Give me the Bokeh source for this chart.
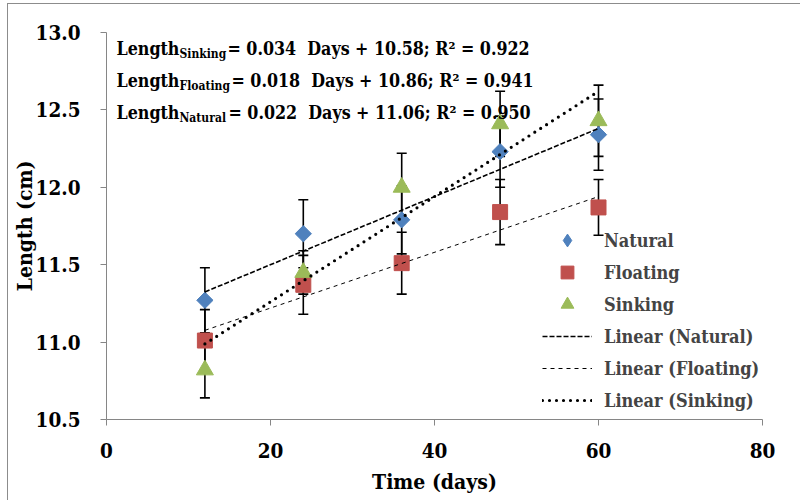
import math

from bokeh.embed import file_html
from bokeh.models import (ColumnDataSource, FixedTicker, Label, Legend, LegendItem,
                          NumeralTickFormatter, Range1d, TeeHead, Whisker)
from bokeh.plotting import figure
from bokeh.resources import INLINE

# ---- data -------------------------------------------------------------
days = [12, 24, 36, 48, 60]
natural = [11.27, 11.70, 11.79, 12.23, 12.34]
floating = [11.01, 11.37, 11.51, 11.84, 11.87]
sinking = [10.82, 11.45, 12.00, 12.41, 12.43]
natural_err = [0.21, 0.22, 0.22, 0.23, 0.23]
floating_err = [0.20, 0.19, 0.20, 0.21, 0.18]
sinking_err = [0.18, 0.14, 0.22, 0.21, 0.23]

# linear fits: (slope, intercept, r2)
fit_sinking = (0.034, 10.58, 0.922)
fit_floating = (0.018, 10.86, 0.941)
fit_natural = (0.022, 11.06, 0.950)

x_ticks = [0, 20, 40, 60, 80]
y_ticks = [10.5, 11.0, 11.5, 12.0, 12.5, 13.0]

FONT = "DejaVu Serif Condensed"
BLUE, RED, GREEN = "#4F81BD", "#C0504D", "#9BBB59"
AXIS_GREY = "#868686"

p = figure(width=793, height=497, output_backend="svg", toolbar_location=None,
           x_range=Range1d(0, 80), y_range=Range1d(10.5, 13.0),
           min_border_left=96, min_border_right=39, min_border_top=28, min_border_bottom=82)
p.margin = (3, 0, 0, 7)
p.styles = {"border-left": "1px solid #8C8C8C", "border-top": "1px solid #8C8C8C"}
p.outline_line_color = None
p.grid.visible = False
p.background_fill_color = "white"
p.border_fill_color = "white"

for ax in (p.xaxis, p.yaxis):
    ax.axis_line_color = AXIS_GREY
    ax.major_tick_line_color = AXIS_GREY
    ax.minor_tick_line_color = None
    ax.major_tick_in = 0
    ax.major_tick_out = 6
    ax.major_label_text_font = FONT
    ax.major_label_text_font_style = "bold"
    ax.major_label_text_font_size = "20.5px"
    ax.major_label_text_color = "black"
    ax.axis_label_text_font = FONT
    ax.axis_label_text_font_style = "bold"
    ax.axis_label_text_font_size = "21px"
    ax.axis_label_text_color = "black"
p.xaxis.ticker = FixedTicker(ticks=x_ticks)
p.yaxis.ticker = FixedTicker(ticks=y_ticks)
p.yaxis.formatter = NumeralTickFormatter(format="0.0")
p.xaxis.major_label_standoff = 17
p.yaxis.major_label_standoff = 20
p.xaxis.axis_label = "Time (days)"
p.yaxis.axis_label = "Length (cm)"
p.xaxis.axis_label_standoff = 8
p.yaxis.axis_label_standoff = -4

# ---- error bars (under the markers) -----------------------------------
for vals, errs in ((natural, natural_err), (floating, floating_err), (sinking, sinking_err)):
    src = ColumnDataSource(dict(x=days,
                                lower=[v - e for v, e in zip(vals, errs)],
                                upper=[v + e for v, e in zip(vals, errs)]))
    w = Whisker(base="x", lower="lower", upper="upper", source=src,
                line_color="black", line_width=1.6, level="underlay",
                upper_head=TeeHead(size=10, line_width=1.6, line_color="black"),
                lower_head=TeeHead(size=10, line_width=1.6, line_color="black"))
    p.add_layout(w)

# ---- markers ------------------------------------------------------------
r_nat = p.scatter(days, natural, marker="square", angle=math.pi / 4, size=11.5,
                  fill_color=BLUE, line_color=BLUE)
r_flo = p.scatter(days, floating, marker="square", size=15,
                  fill_color=RED, line_color=RED)
r_sin = p.scatter(days, sinking, marker="triangle", size=17,
                  fill_color=GREEN, line_color=GREEN)
# legend swatch for the diamond series (legend glyphs are drawn unrotated)
r_nat_key = p.scatter(days, natural, marker="diamond", size=14,
                      fill_color=BLUE, line_color=BLUE, visible=False)

# ---- trend lines from the fitted equations ------------------------------
def fit_line(fit):
    a, b, _ = fit
    xs = [days[0], days[-1]]
    return xs, [a * x + b for x in xs]

xs, ys = fit_line(fit_natural)
l_nat = p.line(xs, ys, line_color="black", line_width=1.6, line_dash="5 2")
xs, ys = fit_line(fit_floating)
l_flo = p.line(xs, ys, line_color="black", line_width=1.0, line_dash="4 4")
xs, ys = fit_line(fit_sinking)
l_sin = p.line(xs, ys, line_color="black", line_width=3.2, line_dash="0 7",
               line_cap="round")

# ---- legend -----------------------------------------------------------
legend = Legend(items=[LegendItem(label="Natural", renderers=[r_nat_key]),
                       LegendItem(label="Floating", renderers=[r_flo]),
                       LegendItem(label="Sinking", renderers=[r_sin]),
                       LegendItem(label="Linear (Natural)", renderers=[l_nat]),
                       LegendItem(label="Linear (Floating)", renderers=[l_flo]),
                       LegendItem(label="Linear (Sinking)", renderers=[l_sin])],
                location=(436, 3))
legend.border_line_color = None
legend.background_fill_alpha = 0
legend.padding = 0
legend.margin = 0
legend.spacing = 0
legend.glyph_width = 50
legend.glyph_height = 32
legend.label_height = 32
legend.label_standoff = 12
legend.label_text_font = FONT
legend.label_text_font_style = "bold"
legend.label_text_font_size = "18px"
legend.label_text_baseline = "middle"
p.add_layout(legend)

# ---- equation text ------------------------------------------------------
def txt(x, y, s, size):
    p.add_layout(Label(x=x, y=y, x_units="screen", y_units="screen", text=s,
                       text_font=FONT, text_font_style="bold",
                       text_font_size=size, text_color="black",
                       text_baseline="alphabetic"))

# positions measured from the frame's bottom-left corner
eq_rows = [("Sinking", fit_sinking, 371, 121.0),
           ("Floating", fit_floating, 339, 125.0),
           ("Natural", fit_natural, 307, 122.0)]
for name, (a, b, r2), base, x_rest in eq_rows:
    txt(10, base, "Length", "17.7px")
    txt(73, base - 5, name, "12px")
    txt(x_rest, base, f" = {a:.3f}\u00a0 Days + {b:.2f}; R\u00b2 = {r2:.3f}", "17.7px")

open("out.html", "w").write(file_html(p, INLINE))
